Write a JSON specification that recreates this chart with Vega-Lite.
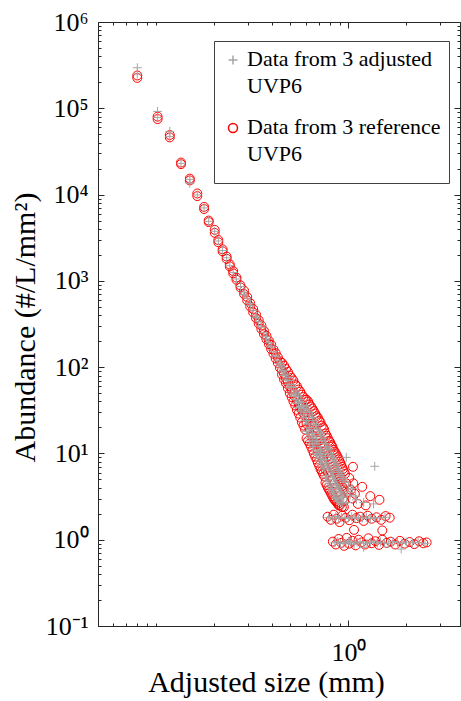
{
"$schema":"https://vega.github.io/schema/vega-lite/v6.json",
"width":362,"height":604,
"autosize":"none",
"padding":{"left":98,"top":22,"right":1,"bottom":75},
"background":"white",
"config":{"font":"Liberation Serif","view":{"stroke":"#262626","strokeWidth":1},
"style":{"guide-label":{"lineHeight":27,"dy":6}},
"axis":{"grid":false,"domainColor":"#262626","tickColor":"#262626","tickWidth":1,"domainWidth":1,"labelColor":"#000000","titleColor":"#000000","labelFont":"Liberation Serif","titleFont":"Liberation Serif","labelFontSize":26,"titleFontSize":30,"titleFontWeight":"normal","labelOverlap":false,"labelFlush":false,"labelBound":false}},
"data":{"values":[
{"s":"r","x":0.080,"y":240000},{"s":"r","x":0.080,"y":225000},
{"s":"r","x":0.102,"y":80000},{"s":"r","x":0.102,"y":75000},
{"s":"r","x":0.118,"y":49000},{"s":"r","x":0.118,"y":46000},
{"s":"r","x":0.135,"y":23500},{"s":"r","x":0.135,"y":22500},
{"s":"r","x":0.150,"y":15300},{"s":"r","x":0.150,"y":14600},
{"s":"r","x":0.164,"y":10300},{"s":"r","x":0.164,"y":9600},
{"s":"r","x":0.178,"y":7200},{"s":"r","x":0.178,"y":6800},
{"s":"r","x":0.188,"y":5000},{"s":"r","x":0.188,"y":4800},
{"s":"r","x":0.202,"y":3900},{"s":"r","x":0.202,"y":3600},
{"s":"r","x":0.211,"y":2970},{"s":"r","x":0.211,"y":2800},
{"s":"r","x":0.222,"y":2320},{"s":"r","x":0.222,"y":2200},
{"s":"r","x":0.233,"y":1910},{"s":"r","x":0.233,"y":1800},
{"s":"r","x":0.242,"y":1550},{"s":"r","x":0.242,"y":1470},
{"s":"r","x":0.252,"y":1300},{"s":"r","x":0.252,"y":1220},
{"s":"r","x":0.262,"y":1090},{"s":"r","x":0.262,"y":1030},
{"s":"r","x":0.275,"y":887},{"s":"r","x":0.275,"y":840},
{"s":"r","x":0.287,"y":770},{"s":"r","x":0.287,"y":703},
{"s":"r","x":0.298,"y":650},{"s":"r","x":0.298,"y":594},
{"s":"r","x":0.309,"y":552},{"s":"r","x":0.309,"y":504},
{"s":"r","x":0.320,"y":472},{"s":"r","x":0.320,"y":431},
{"s":"r","x":0.331,"y":406},{"s":"r","x":0.331,"y":370},
{"s":"r","x":0.342,"y":350},{"s":"r","x":0.342,"y":320},
{"s":"r","x":0.353,"y":304},{"s":"r","x":0.353,"y":277},
{"s":"r","x":0.364,"y":264},{"s":"r","x":0.364,"y":241},
{"s":"r","x":0.375,"y":231},{"s":"r","x":0.375,"y":211},
{"s":"r","x":0.386,"y":203},{"s":"r","x":0.386,"y":185},
{"s":"r","x":0.397,"y":182},{"s":"r","x":0.397,"y":162},
{"s":"r","x":0.408,"y":160},{"s":"r","x":0.408,"y":143},
{"s":"r","x":0.419,"y":145},{"s":"r","x":0.419,"y":126},
{"s":"r","x":0.430,"y":130},{"s":"r","x":0.430,"y":112},
{"s":"r","x":0.441,"y":117},{"s":"r","x":0.441,"y":98},
{"s":"r","x":0.452,"y":112},{"s":"r","x":0.452,"y":92},{"s":"r","x":0.452,"y":82},
{"s":"r","x":0.463,"y":104},{"s":"r","x":0.463,"y":84},{"s":"r","x":0.463,"y":72},
{"s":"r","x":0.474,"y":95},{"s":"r","x":0.474,"y":74},{"s":"r","x":0.474,"y":65},
{"s":"r","x":0.485,"y":88},{"s":"r","x":0.485,"y":68},{"s":"r","x":0.485,"y":57},
{"s":"r","x":0.496,"y":80},{"s":"r","x":0.496,"y":60},{"s":"r","x":0.496,"y":50},
{"s":"r","x":0.507,"y":75},{"s":"r","x":0.507,"y":55},{"s":"r","x":0.507,"y":45},
{"s":"r","x":0.518,"y":70},{"s":"r","x":0.518,"y":50},{"s":"r","x":0.518,"y":40},
{"s":"r","x":0.529,"y":63},{"s":"r","x":0.529,"y":45},{"s":"r","x":0.529,"y":36},
{"s":"r","x":0.540,"y":60},{"s":"r","x":0.540,"y":41},{"s":"r","x":0.540,"y":32},
{"s":"r","x":0.551,"y":55},{"s":"r","x":0.551,"y":38},{"s":"r","x":0.551,"y":29},
{"s":"r","x":0.562,"y":52},{"s":"r","x":0.562,"y":34},{"s":"r","x":0.562,"y":26},
{"s":"r","x":0.573,"y":48},{"s":"r","x":0.573,"y":32},{"s":"r","x":0.573,"y":23},
{"s":"r","x":0.584,"y":45},{"s":"r","x":0.584,"y":29},{"s":"r","x":0.584,"y":21},
{"s":"r","x":0.595,"y":42},{"s":"r","x":0.595,"y":27},{"s":"r","x":0.595,"y":19},
{"s":"r","x":0.606,"y":42},{"s":"r","x":0.606,"y":30},{"s":"r","x":0.606,"y":22},{"s":"r","x":0.606,"y":15},
{"s":"r","x":0.617,"y":40},{"s":"r","x":0.617,"y":26},{"s":"r","x":0.617,"y":14},
{"s":"r","x":0.628,"y":37},{"s":"r","x":0.628,"y":25},{"s":"r","x":0.628,"y":19},{"s":"r","x":0.628,"y":13},
{"s":"r","x":0.639,"y":35},{"s":"r","x":0.639,"y":22},{"s":"r","x":0.639,"y":12},
{"s":"r","x":0.650,"y":33},{"s":"r","x":0.650,"y":21},{"s":"r","x":0.650,"y":16},{"s":"r","x":0.650,"y":11},
{"s":"r","x":0.661,"y":31},{"s":"r","x":0.661,"y":19},{"s":"r","x":0.661,"y":10},
{"s":"r","x":0.672,"y":29},{"s":"r","x":0.672,"y":18},{"s":"r","x":0.672,"y":13},{"s":"r","x":0.672,"y":9.2},
{"s":"r","x":0.683,"y":27},{"s":"r","x":0.683,"y":16},{"s":"r","x":0.683,"y":8.5},
{"s":"r","x":0.694,"y":26},{"s":"r","x":0.694,"y":15},{"s":"r","x":0.694,"y":11},{"s":"r","x":0.694,"y":7.8},
{"s":"r","x":0.705,"y":24},{"s":"r","x":0.705,"y":14},{"s":"r","x":0.705,"y":7.2},
{"s":"r","x":0.716,"y":23},{"s":"r","x":0.716,"y":13},{"s":"r","x":0.716,"y":9.5},{"s":"r","x":0.716,"y":6.6},
{"s":"r","x":0.727,"y":21},{"s":"r","x":0.727,"y":12},{"s":"r","x":0.727,"y":6.2},
{"s":"r","x":0.738,"y":20},{"s":"r","x":0.738,"y":11.5},{"s":"r","x":0.738,"y":8.5},{"s":"r","x":0.738,"y":5.8},
{"s":"r","x":0.749,"y":19},{"s":"r","x":0.749,"y":10.5},{"s":"r","x":0.749,"y":5.4},
{"s":"r","x":0.760,"y":17},{"s":"r","x":0.760,"y":10},{"s":"r","x":0.760,"y":6.5},{"s":"r","x":0.760,"y":4.6},
{"s":"r","x":0.771,"y":16},{"s":"r","x":0.771,"y":9},{"s":"r","x":0.771,"y":4.3},
{"s":"r","x":0.782,"y":15},{"s":"r","x":0.782,"y":9.5},{"s":"r","x":0.782,"y":6.0},{"s":"r","x":0.782,"y":4.0},
{"s":"r","x":0.793,"y":14},{"s":"r","x":0.793,"y":8.5},{"s":"r","x":0.793,"y":3.8},
{"s":"r","x":0.804,"y":13.5},{"s":"r","x":0.804,"y":8},{"s":"r","x":0.804,"y":5.5},{"s":"r","x":0.804,"y":3.6},
{"s":"r","x":0.815,"y":12.5},{"s":"r","x":0.815,"y":7.5},{"s":"r","x":0.815,"y":3.4},
{"s":"r","x":0.826,"y":12},{"s":"r","x":0.826,"y":7},{"s":"r","x":0.826,"y":5},{"s":"r","x":0.826,"y":3.2},
{"s":"r","x":0.837,"y":11},{"s":"r","x":0.837,"y":6.5},{"s":"r","x":0.837,"y":3.0},
{"s":"r","x":0.848,"y":10.5},{"s":"r","x":0.848,"y":6.2},{"s":"r","x":0.848,"y":4.5},{"s":"r","x":0.848,"y":2.9},
{"s":"r","x":0.859,"y":10},{"s":"r","x":0.859,"y":5.8},{"s":"r","x":0.859,"y":2.8},
{"s":"r","x":0.870,"y":9.5},{"s":"r","x":0.870,"y":5.5},{"s":"r","x":0.870,"y":4},{"s":"r","x":0.870,"y":2.7},
{"s":"r","x":0.881,"y":9},{"s":"r","x":0.881,"y":5.2},{"s":"r","x":0.881,"y":2.6},
{"s":"r","x":0.892,"y":8.5},{"s":"r","x":0.892,"y":5},{"s":"r","x":0.892,"y":3.6},{"s":"r","x":0.892,"y":2.5},
{"s":"r","x":0.903,"y":8},{"s":"r","x":0.903,"y":4.7},{"s":"r","x":0.903,"y":2.5},
{"s":"r","x":0.914,"y":7.5},{"s":"r","x":0.914,"y":4.4},{"s":"r","x":0.914,"y":3.3},
{"s":"r","x":0.925,"y":7},{"s":"r","x":0.925,"y":4.2},{"s":"r","x":0.925,"y":2.4},
{"s":"r","x":0.936,"y":6.6},{"s":"r","x":0.936,"y":4.0},{"s":"r","x":0.936,"y":3.0},
{"s":"r","x":0.947,"y":6.2},{"s":"r","x":0.947,"y":3.8},{"s":"r","x":0.947,"y":2.4},
{"s":"r","x":0.96,"y":5.8},{"s":"r","x":0.975,"y":4.5},{"s":"r","x":0.99,"y":3.5},{"s":"r","x":1.01,"y":5.2},{"s":"r","x":1.03,"y":3.8},{"s":"r","x":1.06,"y":4.5},{"s":"r","x":1.08,"y":3.4},{"s":"r","x":1.056,"y":7.0},{"s":"r","x":0.95,"y":2.8},{"s":"r","x":1.05,"y":3.0},{"s":"r","x":1.18,"y":4.1},{"s":"r","x":1.23,"y":2.5},{"s":"r","x":1.3,"y":3.2},{"s":"r","x":1.45,"y":2.9},{"s":"r","x":1.12,"y":2.6},
{"s":"r","x":0.78,"y":1.85},{"s":"r","x":0.81,"y":1.7},{"s":"r","x":0.84,"y":1.95},{"s":"r","x":0.87,"y":1.75},{"s":"r","x":0.9,"y":1.6},{"s":"r","x":0.93,"y":1.9},{"s":"r","x":0.97,"y":1.8},{"s":"r","x":1.01,"y":1.68},{"s":"r","x":1.05,"y":1.95},{"s":"r","x":1.1,"y":1.78},{"s":"r","x":1.15,"y":1.85},{"s":"r","x":1.2,"y":1.65},{"s":"r","x":1.26,"y":1.9},{"s":"r","x":1.32,"y":1.75},{"s":"r","x":1.4,"y":1.82},{"s":"r","x":1.48,"y":1.7},{"s":"r","x":1.56,"y":1.88},{"s":"r","x":1.64,"y":1.8},
{"s":"r","x":0.83,"y":0.95},{"s":"r","x":0.86,"y":0.88},{"s":"r","x":0.89,"y":1.02},{"s":"r","x":0.92,"y":0.92},{"s":"r","x":0.95,"y":0.85},{"s":"r","x":0.98,"y":1.05},{"s":"r","x":1.01,"y":0.9},{"s":"r","x":1.05,"y":0.97},{"s":"r","x":1.09,"y":0.86},{"s":"r","x":1.13,"y":1.0},{"s":"r","x":1.17,"y":0.93},{"s":"r","x":1.22,"y":0.88},{"s":"r","x":1.27,"y":1.04},{"s":"r","x":1.32,"y":0.91},{"s":"r","x":1.38,"y":0.96},{"s":"r","x":1.44,"y":0.87},{"s":"r","x":1.5,"y":1.0},{"s":"r","x":1.58,"y":0.92},{"s":"r","x":1.66,"y":0.95},{"s":"r","x":1.75,"y":0.88},{"s":"r","x":1.85,"y":0.97},{"s":"r","x":1.96,"y":0.9},{"s":"r","x":2.08,"y":0.94},{"s":"r","x":2.2,"y":0.89},{"s":"r","x":2.33,"y":0.96},{"s":"r","x":2.45,"y":0.91},{"s":"r","x":2.55,"y":0.93},{"s":"r","x":1.07,"y":1.3},{"s":"r","x":1.5,"y":1.28},
{"s":"a","x":0.080,"y":295000},{"s":"a","x":0.080,"y":250000},
{"s":"a","x":0.102,"y":92000},{"s":"a","x":0.102,"y":78000},
{"s":"a","x":0.118,"y":54000},{"s":"a","x":0.118,"y":47000},
{"s":"a","x":0.135,"y":23000},
{"s":"a","x":0.150,"y":13500},{"s":"a","x":0.150,"y":15000},
{"s":"a","x":0.164,"y":9900},{"s":"a","x":0.178,"y":7000},{"s":"a","x":0.188,"y":4900},{"s":"a","x":0.202,"y":3750},{"s":"a","x":0.211,"y":2900},{"s":"a","x":0.222,"y":2250},{"s":"a","x":0.233,"y":1850},{"s":"a","x":0.242,"y":1500},{"s":"a","x":0.252,"y":1250},{"s":"a","x":0.262,"y":1050},{"s":"a","x":0.275,"y":860},
{"s":"a","x":0.287,"y":740},{"s":"a","x":0.287,"y":690},{"s":"a","x":0.298,"y":630},{"s":"a","x":0.309,"y":520},{"s":"a","x":0.309,"y":545},{"s":"a","x":0.320,"y":455},{"s":"a","x":0.331,"y":392},{"s":"a","x":0.331,"y":375},{"s":"a","x":0.342,"y":335},{"s":"a","x":0.353,"y":290},{"s":"a","x":0.353,"y":300},{"s":"a","x":0.364,"y":250},{"s":"a","x":0.375,"y":225},{"s":"a","x":0.375,"y":212},{"s":"a","x":0.386,"y":192},{"s":"a","x":0.397,"y":170},{"s":"a","x":0.397,"y":176},{"s":"a","x":0.408,"y":150},{"s":"a","x":0.419,"y":132},{"s":"a","x":0.419,"y":138},{"s":"a","x":0.430,"y":118},{"s":"a","x":0.441,"y":104},{"s":"a","x":0.441,"y":110},
{"s":"a","x":0.452,"y":100},{"s":"a","x":0.452,"y":88},{"s":"a","x":0.463,"y":92},{"s":"a","x":0.463,"y":80},{"s":"a","x":0.474,"y":83},{"s":"a","x":0.474,"y":71},{"s":"a","x":0.485,"y":76},{"s":"a","x":0.485,"y":63},{"s":"a","x":0.496,"y":70},{"s":"a","x":0.496,"y":58},{"s":"a","x":0.507,"y":63},{"s":"a","x":0.507,"y":50},{"s":"a","x":0.507,"y":60},{"s":"a","x":0.518,"y":58},{"s":"a","x":0.518,"y":46},{"s":"a","x":0.529,"y":54},{"s":"a","x":0.529,"y":42},{"s":"a","x":0.529,"y":48},{"s":"a","x":0.540,"y":50},{"s":"a","x":0.540,"y":38},{"s":"a","x":0.551,"y":46},{"s":"a","x":0.551,"y":34},{"s":"a","x":0.551,"y":40},{"s":"a","x":0.562,"y":42},{"s":"a","x":0.562,"y":31},{"s":"a","x":0.573,"y":39},{"s":"a","x":0.573,"y":28},{"s":"a","x":0.573,"y":35},{"s":"a","x":0.584,"y":36},{"s":"a","x":0.584,"y":26},{"s":"a","x":0.595,"y":33},{"s":"a","x":0.595,"y":24},{"s":"a","x":0.595,"y":30},
{"s":"a","x":0.606,"y":35},{"s":"a","x":0.606,"y":24},{"s":"a","x":0.606,"y":18},{"s":"a","x":0.617,"y":32},{"s":"a","x":0.617,"y":22},{"s":"a","x":0.617,"y":17},{"s":"a","x":0.628,"y":30},{"s":"a","x":0.628,"y":20},{"s":"a","x":0.628,"y":15},{"s":"a","x":0.639,"y":28},{"s":"a","x":0.639,"y":19},{"s":"a","x":0.639,"y":14},{"s":"a","x":0.650,"y":26},{"s":"a","x":0.650,"y":17},{"s":"a","x":0.650,"y":13},{"s":"a","x":0.661,"y":24},{"s":"a","x":0.661,"y":16},{"s":"a","x":0.661,"y":12},{"s":"a","x":0.672,"y":22},{"s":"a","x":0.672,"y":15},{"s":"a","x":0.672,"y":11},{"s":"a","x":0.683,"y":21},{"s":"a","x":0.683,"y":14},{"s":"a","x":0.683,"y":10},{"s":"a","x":0.694,"y":19},{"s":"a","x":0.694,"y":13},{"s":"a","x":0.694,"y":9.5},{"s":"a","x":0.705,"y":18},{"s":"a","x":0.705,"y":12},{"s":"a","x":0.705,"y":8.8},{"s":"a","x":0.716,"y":17},{"s":"a","x":0.716,"y":11},{"s":"a","x":0.716,"y":8.2},{"s":"a","x":0.727,"y":16},{"s":"a","x":0.727,"y":10.5},{"s":"a","x":0.727,"y":7.6},{"s":"a","x":0.738,"y":15},{"s":"a","x":0.738,"y":9.8},{"s":"a","x":0.738,"y":7.0},{"s":"a","x":0.749,"y":14},{"s":"a","x":0.749,"y":9.2},{"s":"a","x":0.749,"y":6.6},
{"s":"a","x":0.760,"y":13},{"s":"a","x":0.760,"y":8.5},{"s":"a","x":0.760,"y":5.5},{"s":"a","x":0.771,"y":12},{"s":"a","x":0.771,"y":7.8},{"s":"a","x":0.771,"y":5.2},{"s":"a","x":0.782,"y":11.5},{"s":"a","x":0.782,"y":7.2},{"s":"a","x":0.782,"y":4.8},{"s":"a","x":0.793,"y":11},{"s":"a","x":0.793,"y":6.8},{"s":"a","x":0.793,"y":4.5},{"s":"a","x":0.804,"y":10},{"s":"a","x":0.804,"y":6.4},{"s":"a","x":0.804,"y":4.2},{"s":"a","x":0.815,"y":9.5},{"s":"a","x":0.815,"y":6.0},{"s":"a","x":0.815,"y":3.9},{"s":"a","x":0.826,"y":9},{"s":"a","x":0.826,"y":5.6},{"s":"a","x":0.826,"y":3.7},{"s":"a","x":0.837,"y":8.5},{"s":"a","x":0.837,"y":5.3},{"s":"a","x":0.837,"y":3.5},{"s":"a","x":0.848,"y":8},{"s":"a","x":0.848,"y":5},{"s":"a","x":0.848,"y":3.3},{"s":"a","x":0.859,"y":7.5},{"s":"a","x":0.859,"y":4.7},{"s":"a","x":0.859,"y":3.1},{"s":"a","x":0.870,"y":7},{"s":"a","x":0.870,"y":4.4},{"s":"a","x":0.870,"y":3.0},{"s":"a","x":0.881,"y":6.6},{"s":"a","x":0.881,"y":4.2},{"s":"a","x":0.881,"y":2.9},{"s":"a","x":0.892,"y":6.3},{"s":"a","x":0.892,"y":4.0},{"s":"a","x":0.892,"y":2.8},{"s":"a","x":0.903,"y":6.0},{"s":"a","x":0.903,"y":3.8},{"s":"a","x":0.914,"y":5.7},{"s":"a","x":0.914,"y":3.6},{"s":"a","x":0.914,"y":2.7},{"s":"a","x":0.925,"y":5.4},{"s":"a","x":0.925,"y":3.4},{"s":"a","x":0.936,"y":5.1},{"s":"a","x":0.936,"y":3.2},{"s":"a","x":0.936,"y":2.6},{"s":"a","x":0.947,"y":4.8},{"s":"a","x":0.947,"y":3.1},
{"s":"a","x":0.965,"y":4.6},{"s":"a","x":0.985,"y":3.6},{"s":"a","x":1.0,"y":4.2},{"s":"a","x":1.02,"y":3.3},{"s":"a","x":1.05,"y":3.9},{"s":"a","x":1.09,"y":3.2},{"s":"a","x":0.98,"y":2.7},{"s":"a","x":1.1,"y":2.9},{"s":"a","x":1.2,"y":2.7},{"s":"a","x":1.35,"y":2.6},{"s":"a","x":1.37,"y":7.1},{"s":"a","x":0.975,"y":9.0},
{"s":"a","x":0.79,"y":1.8},{"s":"a","x":0.83,"y":1.75},{"s":"a","x":0.86,"y":1.85},{"s":"a","x":0.89,"y":1.78},{"s":"a","x":0.92,"y":1.82},{"s":"a","x":0.96,"y":1.76},{"s":"a","x":1.0,"y":1.8},{"s":"a","x":1.04,"y":1.84},{"s":"a","x":1.08,"y":1.77},{"s":"a","x":1.13,"y":1.81},{"s":"a","x":1.18,"y":1.79},{"s":"a","x":1.24,"y":1.83},{"s":"a","x":1.3,"y":1.76},{"s":"a","x":1.37,"y":1.8},{"s":"a","x":1.45,"y":1.78},{"s":"a","x":1.55,"y":1.82},
{"s":"a","x":0.85,"y":0.92},{"s":"a","x":0.88,"y":0.95},{"s":"a","x":0.91,"y":0.9},{"s":"a","x":0.94,"y":0.94},{"s":"a","x":0.97,"y":0.91},{"s":"a","x":1.0,"y":0.96},{"s":"a","x":1.03,"y":0.93},{"s":"a","x":1.07,"y":0.89},{"s":"a","x":1.11,"y":0.94},{"s":"a","x":1.15,"y":0.92},{"s":"a","x":1.2,"y":0.95},{"s":"a","x":1.25,"y":0.9},{"s":"a","x":1.3,"y":0.93},{"s":"a","x":1.35,"y":0.96},{"s":"a","x":1.41,"y":0.91},{"s":"a","x":1.47,"y":0.94},{"s":"a","x":1.54,"y":0.92},{"s":"a","x":1.62,"y":0.9},{"s":"a","x":1.7,"y":0.95},{"s":"a","x":1.8,"y":0.93},{"s":"a","x":1.9,"y":0.91},{"s":"a","x":2.0,"y":0.94},{"s":"a","x":2.15,"y":0.92},{"s":"a","x":2.3,"y":0.93},{"s":"a","x":2.5,"y":0.9},{"s":"a","x":1.88,"y":0.78},{"s":"a","x":1.2,"y":0.82}
]},
"layer":[
{"mark":{"type":"point","filled":false,"size":80,"strokeWidth":1,"opacity":1},
"encoding":{
"x":{"field":"x","type":"quantitative","scale":{"type":"log","domain":[0.05,3.8],"nice":false,"zero":false},
"axis":{"orient":"bottom","values":[0.06,0.07,0.08,0.09,0.1,0.2,0.3,0.4,0.5,0.6,0.7,0.8,0.9,1,2,3],
"labelExpr":"datum.value == 1 ? '10⁰' : ''",
"tickSize":{"condition":{"test":"datum.value == 1","value":-6},"value":-3},
"labelPadding":34,"labelBaseline":"alphabetic","labelAlign":"center",
"title":"Adjusted size (mm)","titleX":168,"titleY":65,"titleAlign":"center","titleBaseline":"alphabetic","titleAngle":0}},
"y":{"field":"y","type":"quantitative","scale":{"type":"log","domain":[0.1,1000000],"nice":false,"zero":false},
"axis":{"orient":"left","values":[0.1,0.2,0.3,0.4,0.5,0.6,0.7,0.8,0.9,1,2,3,4,5,6,7,8,9,10,20,30,40,50,60,70,80,90,100,200,300,400,500,600,700,800,900,1000,2000,3000,4000,5000,6000,7000,8000,9000,10000,20000,30000,40000,50000,60000,70000,80000,90000,100000,200000,300000,400000,500000,600000,700000,800000,900000,1000000],
"labelExpr":"abs(log(datum.value)/LN10 - round(log(datum.value)/LN10)) < 0.001 ? ['10⁻¹','10⁰','10¹','10²','10³','10⁴','10⁵','10⁶'][round(log(datum.value)/LN10)+1] : ''",
"tickSize":{"condition":{"test":"abs(log(datum.value)/LN10 - round(log(datum.value)/LN10)) < 0.001","value":-6},"value":-3},
"labelPadding":16,"labelOffset":-6,"labelAlign":"right","labelBaseline":"middle",
"title":"Abundance (#/L/mm²)","titleX":-64,"titleY":305,"titleAlign":"center","titleBaseline":"alphabetic","titleAngle":270}},
"color":{"field":"s","type":"nominal","scale":{"domain":["a","r"],"range":["#a5a5a5","#ff0000"]},
"legend":{"title":" ","titleOrient":"bottom","titleFontSize":10,"titlePadding":0,"orient":"none","legendX":116,"legendY":19,"direction":"vertical","labelExpr":"datum.value == 'a' ? ['Data from 3 adjusted','UVP6'] : ['Data from 3 reference','UVP6']","labelFont":"Liberation Serif","labelFontSize":22,"labelColor":"#000000","labelLimit":400,"labelBaseline":"alphabetic","labelOffset":3,"symbolSize":80,"symbolStrokeWidth":1.5,"strokeColor":"#404040","fillColor":"#ffffff","padding":8,"rowPadding":19}},
"shape":{"field":"s","type":"nominal","scale":{"domain":["a","r"],"range":["M-1,0L1,0M0,-1L0,1","circle"]},
"legend":{"title":" ","titleOrient":"bottom","titleFontSize":10,"titlePadding":0,"orient":"none","legendX":116,"legendY":19,"direction":"vertical","labelExpr":"datum.value == 'a' ? ['Data from 3 adjusted','UVP6'] : ['Data from 3 reference','UVP6']","labelFont":"Liberation Serif","labelFontSize":22,"labelColor":"#000000","labelLimit":400,"labelBaseline":"alphabetic","labelOffset":3,"symbolSize":80,"symbolStrokeWidth":1.5,"strokeColor":"#404040","fillColor":"#ffffff","padding":8,"rowPadding":19}}
}},
{"mark":{"type":"point","opacity":0},
"encoding":{
"x":{"field":"x","type":"quantitative","scale":{"type":"log","domain":[0.05,3.8],"nice":false,"zero":false},
"axis":{"orient":"top","values":[0.06,0.07,0.08,0.09,0.1,0.2,0.3,0.4,0.5,0.6,0.7,0.8,0.9,1,2,3],"labels":false,"title":null,
"tickSize":{"condition":{"test":"datum.value == 1","value":-6},"value":-3}}},
"y":{"field":"y","type":"quantitative","scale":{"type":"log","domain":[0.1,1000000],"nice":false,"zero":false},
"axis":{"orient":"right","values":[0.1,0.2,0.3,0.4,0.5,0.6,0.7,0.8,0.9,1,2,3,4,5,6,7,8,9,10,20,30,40,50,60,70,80,90,100,200,300,400,500,600,700,800,900,1000,2000,3000,4000,5000,6000,7000,8000,9000,10000,20000,30000,40000,50000,60000,70000,80000,90000,100000,200000,300000,400000,500000,600000,700000,800000,900000,1000000],"labels":false,"title":null,
"tickSize":{"condition":{"test":"abs(log(datum.value)/LN10 - round(log(datum.value)/LN10)) < 0.001","value":-6},"value":-3}}}
}}
],
"resolve":{"axis":{"x":"independent","y":"independent"}}
}
